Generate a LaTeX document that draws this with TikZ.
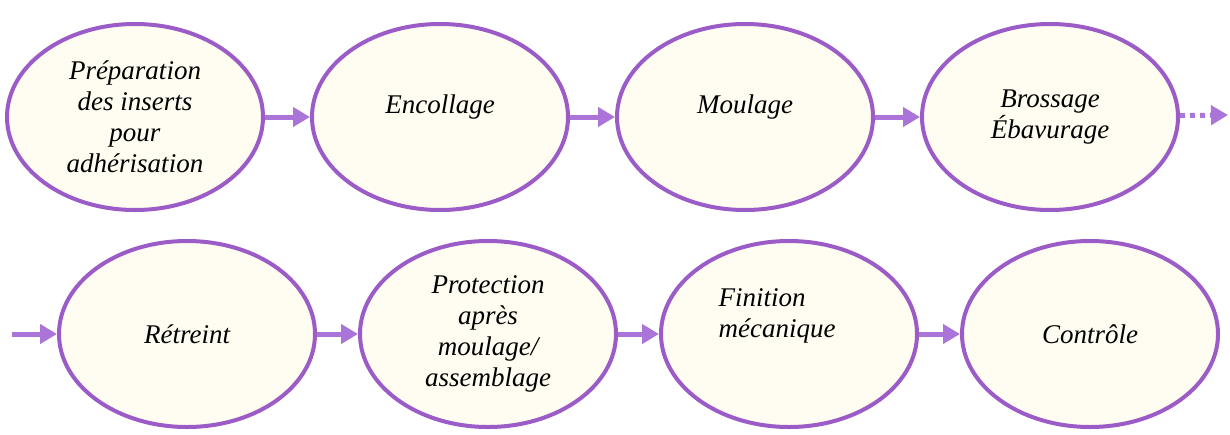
\documentclass[tikz,border=0pt]{standalone}
\usepackage{fontspec}
\setmainfont{Liberation Serif}
\usepackage{tikz}
\usetikzlibrary{arrows.meta}
\usetikzlibrary{positioning}
\usetikzlibrary{shapes.geometric}

\definecolor{stageline}{HTML}{9B5CC8}
\definecolor{arrowline}{HTML}{AA74D8}
\definecolor{stagefill}{HTML}{FFFDF1}

\begin{document}
\begin{tikzpicture}[
		x=1pt,y=-1pt,
		node distance=305pt,
		main node/.style={font=\fontsize{27}{31}\selectfont\itshape, align=center}
		,
		stage node/.style={
			main node,
			ellipse,
			draw=stageline,
			fill=stagefill,
			line width=4pt,
			minimum width=256pt,
			minimum height=186pt,
			inner sep=0pt
		},
		raised/.style={text depth=#1},
		stage arrow/.style={
			draw=arrowline,
			line width=5pt,
			-{Triangle[length=17pt,width=19pt]}
		}
		]
		\useasboundingbox (0,0) rectangle (1230,434);
		% first row
		\node[stage node] (prep) at (135,117) {Préparation\\des inserts\\pour\\adhérisation};
		\node[stage node, raised=26pt] (enc) [right of=prep] {Encollage};
		\node[stage node, raised=26pt] (moul) [right of=enc] {Moulage};
		\node[stage node] (bros) [right of=moul] {Brossage\\Ébavurage};
		\coordinate (suite) at (1228,115);
		% second row
		\coordinate (entree) at (12,334);
		\node[stage node] (retr) at (187,334) {Rétreint};
		\node[stage node, node distance=301pt] (prot) [right of=retr] {Protection\\après\\moulage/\\assemblage};
		\node[stage node, node distance=301pt] (fin) [right of=prot] {};
		\node[main node, align=left] (fintxt) at ([xshift=-12pt,yshift=18pt]fin.center) {Finition\\mécanique};
		\node[stage node, node distance=301pt] (ctrl) [right of=fin] {Contrôle};
		
		\path
		(prep) edge[stage arrow] (enc)
		(enc) edge[stage arrow] (moul)
		(moul) edge[stage arrow] (bros)
		(bros) edge[stage arrow, dash pattern=on 5pt off 5pt] (suite)
		(entree) edge[stage arrow] (retr)
		(retr) edge[stage arrow] (prot)
		(prot) edge[stage arrow] (fin)
		(fin) edge[stage arrow] (ctrl);
	\end{tikzpicture}
\end{document}
